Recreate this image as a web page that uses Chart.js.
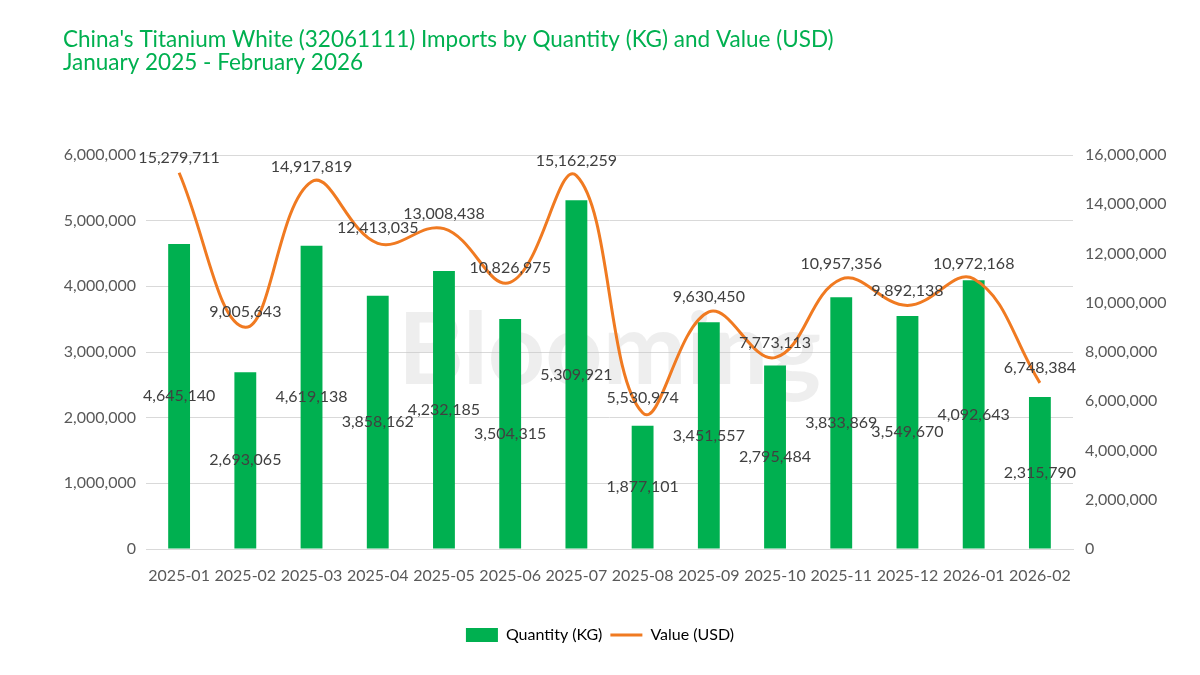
<!DOCTYPE html>
<html>
<head>
<meta charset="utf-8">
<script src="https://cdn.jsdelivr.net/npm/chart.js@4"></script>
<style>
  html, body { margin: 0; padding: 0; background: #fff; }
  #wrap { width: 1200px; height: 675px; }
</style>
</head>
<body>
<div id="wrap"><canvas id="chart" width="1200" height="675"></canvas></div>
<script>
const months = ['2025-01', '2025-02', '2025-03', '2025-04', '2025-05', '2025-06', '2025-07',
    '2025-08', '2025-09', '2025-10', '2025-11', '2025-12', '2026-01', '2026-02'];
const quantityKg = [4645140, 2693065, 4619138, 3858162, 4232185, 3504315, 5309921,
    1877101, 3451557, 2795484, 3833869, 3549670, 4092643, 2315790];
const valueUsd = [15279711, 9005643, 14917819, 12413035, 13008438, 10826975, 15162259,
    5530974, 9630450, 7773113, 10957356, 9892138, 10972168, 6748384];
const titleLines = ["China's Titanium White (32061111) Imports by Quantity (KG) and Value (USD)",
    'January 2025 - February 2026'];

const FONT = 'Lato, "DejaVu Sans", sans-serif';
const GREEN = '#00B050';
const ORANGE = '#F07A21';
const fmt = v => v.toLocaleString('en-US');

// title, watermark and value labels
const decor = {
    id: 'decor',
    beforeDatasetsDraw(chart) {
        const { ctx, chartArea } = chart;
        ctx.save();
        ctx.font = 'bold 100px ' + FONT;
        ctx.fillStyle = 'rgba(200,200,200,0.3)';
        ctx.textAlign = 'center';
        ctx.textBaseline = 'middle';
        ctx.fillText('Blooming', (chartArea.left + chartArea.right) / 2, 352);
        ctx.restore();
    },
    afterDraw(chart) {
        const { ctx } = chart;
        ctx.save();
        ctx.font = '22.5px ' + FONT;
        ctx.fillStyle = GREEN;
        ctx.textBaseline = 'middle';
        ctx.fillText(titleLines[0], 63, 40);
        ctx.fillText(titleLines[1], 63, 63);

        ctx.font = '16px ' + FONT;
        ctx.fillStyle = '#404040';
        ctx.textAlign = 'center';
        const pts = chart.getDatasetMeta(0).data;
        pts.forEach((p, i) => {
            ctx.fillText(fmt(valueUsd[i]), p.x, p.y - 15);
        });
        const bars = chart.getDatasetMeta(1).data;
        bars.forEach((b, i) => {
            ctx.fillText(fmt(quantityKg[i]), b.x, (b.y + b.base) / 2);
        });
        ctx.restore();
    }
};

new Chart(document.getElementById('chart'), {
    data: {
        labels: months,
        datasets: [
            {
                type: 'line',
                label: 'Value (USD)',
                data: valueUsd,
                yAxisID: 'y2',
                borderColor: ORANGE,
                backgroundColor: ORANGE,
                borderWidth: 3,
                pointRadius: 0,
                tension: 0.4,
                order: 0
            },
            {
                type: 'bar',
                label: 'Quantity (KG)',
                data: quantityKg,
                yAxisID: 'y',
                backgroundColor: GREEN,
                barPercentage: 0.66,
                categoryPercentage: 0.5,
                order: 1
            }
        ]
    },
    options: {
        responsive: false,
        animation: false,
        layout: { padding: { top: 155, bottom: 22, left: 0, right: 0 } },
        plugins: {
            title: { display: false },
            tooltip: { enabled: false },
            legend: {
                position: 'bottom',
                reverse: true,
                labels: {
                    font: { family: FONT, size: 16 },
                    color: '#595959',
                    usePointStyle: true,
                    pointStyleWidth: 32,
                    boxHeight: 14,
                    padding: 8,
                    generateLabels(chart) {
                        return chart.data.datasets.map((ds, i) => {
                            const isBar = ds.type === 'bar';
                            return {
                                text: ds.label,
                                fillStyle: isBar ? GREEN : ORANGE,
                                strokeStyle: isBar ? GREEN : ORANGE,
                                lineWidth: isBar ? 0 : 3,
                                pointStyle: isBar ? 'rect' : 'line',
                                datasetIndex: i
                            };
                        });
                    }
                }
            }
        },
        scales: {
            x: {
                grid: { display: false, drawTicks: false },
                border: { display: true, color: '#D9D9D9' },
                ticks: { font: { family: FONT, size: 16 }, color: '#595959', padding: 17, maxRotation: 0 },
                afterFit(s) { s.height = 70; }
            },
            y: {
                position: 'left',
                min: 0,
                max: 6000000,
                ticks: { stepSize: 1000000, font: { family: FONT, size: 16 }, color: '#595959', padding: 10,
                    callback: v => fmt(v) },
                grid: { color: '#D9D9D9', drawTicks: false },
                border: { display: false },
                afterFit(s) { s.width = 146; }
            },
            y2: {
                position: 'right',
                min: 0,
                max: 16000000,
                ticks: { stepSize: 2000000, font: { family: FONT, size: 16 }, color: '#595959', padding: 12,
                    callback: v => fmt(v) },
                grid: { display: false, drawTicks: false },
                border: { display: false },
                afterFit(s) { s.width = 127; }
            }
        }
    },
    plugins: [decor]
});
</script>
</body>
</html>
